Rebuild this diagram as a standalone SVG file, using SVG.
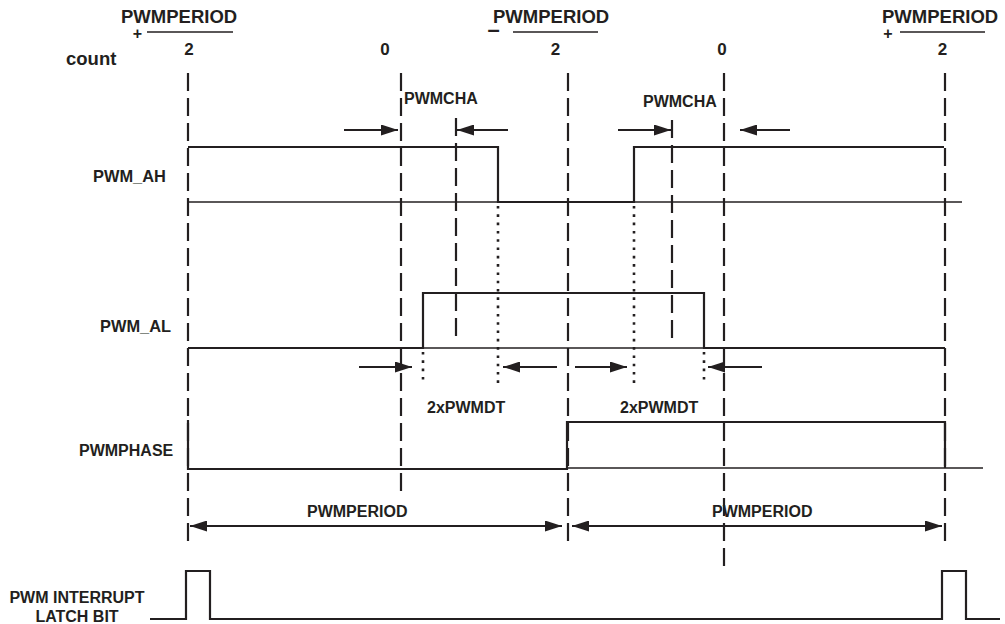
<svg xmlns="http://www.w3.org/2000/svg" width="1005" height="624" viewBox="0 0 1005 624">
<style>
text{font-family:"Liberation Sans",Arial,Helvetica,sans-serif;font-weight:bold;fill:#231f20}
.t18{font-size:18.5px}
.t17{font-size:17px}
.t16{font-size:16px}
.sig{fill:none;stroke:#231f20;stroke-width:2.2}
.thin{fill:none;stroke:#231f20;stroke-width:1.3}
.dash{fill:none;stroke:#231f20;stroke-width:2.2;stroke-dasharray:18 7}
.dot{fill:none;stroke:#231f20;stroke-width:2.6;stroke-dasharray:2.6 5.7}
.frac{stroke:#231f20;stroke-width:1.5}
.arr{fill:none;stroke:#231f20;stroke-width:2;marker-end:url(#ah)}
.darr{fill:none;stroke:#231f20;stroke-width:2;marker-start:url(#ah);marker-end:url(#ah)}
</style>
<defs>
<marker id="ah" viewBox="0 0 17 11" refX="17" refY="5.5" markerWidth="17" markerHeight="11" markerUnits="userSpaceOnUse" orient="auto-start-reverse">
<path d="M0 0 L17 5.5 L0 11 Z" fill="#231f20"/>
</marker>
</defs>
<rect width="1005" height="624" fill="#fff"/>

<g id="header">
<text class="t18" x="121" y="23">PWMPERIOD</text>
<text class="t16" x="137.5" y="38.5" text-anchor="middle">+</text>
<line class="frac" x1="147" y1="32" x2="233" y2="32"/>
<text class="t17" x="189" y="55" text-anchor="middle">2</text>
<text class="t17" x="385" y="55" text-anchor="middle">0</text>
<text class="t18" x="493" y="23">PWMPERIOD</text>
<text x="493.5" y="36.5" text-anchor="middle" style="font-size:22px">–</text>
<line class="frac" x1="513" y1="32" x2="598" y2="32"/>
<text class="t17" x="555.5" y="55" text-anchor="middle">2</text>
<text class="t17" x="722" y="55" text-anchor="middle">0</text>
<text class="t18" x="882" y="23">PWMPERIOD</text>
<text class="t16" x="888" y="38.5" text-anchor="middle">+</text>
<line class="frac" x1="900" y1="32" x2="985" y2="32"/>
<text class="t17" x="942.5" y="55" text-anchor="middle">2</text>
<text class="t18" x="66" y="65">count</text>
</g>

<g id="gridlines">
<path class="dash" d="M188 73 V546"/>
<path class="dash" d="M401 73 V498"/>
<path class="dash" d="M568 73 V546"/>
<path class="dash" d="M724 73 V568"/>
<path class="dash" d="M945 73 V546"/>
<path class="dash" d="M456 118 V340"/>
<path class="dash" d="M672 120 V342"/>
<path class="dot" d="M498 206 V384"/>
<path class="dot" d="M634 206 V384"/>
<path class="dot" d="M423 352 V384"/>
<path class="dot" d="M704 352 V384"/>
</g>

<g id="pwm_ah">
<text class="t16" x="93" y="182" style="font-size:16.4px">PWM_AH</text>
<path class="thin" d="M188 202 H962"/>
<path class="sig" d="M188 147 H498 V202 H634 V147 H944"/>
</g>

<g id="pwm_al">
<text class="t16" x="100" y="332" style="font-size:16.4px">PWM_AL</text>
<path class="thin" d="M188 348 H945"/>
<path class="sig" d="M188 348 H423 V293 H704 V348 H945"/>
</g>

<g id="pwmphase">
<text class="t16" x="79" y="456">PWMPHASE</text>
<path class="thin" d="M567 468 H983"/>
<path class="sig" d="M188 420 V469 H567 V422 H945 V468"/>
</g>

<g id="interrupt">
<text class="t16" x="77" y="603" text-anchor="middle">PWM INTERRUPT</text>
<text class="t16" x="77" y="622" text-anchor="middle">LATCH BIT</text>
<path class="sig" d="M150 619 H186 V571 H210 V619 H942 V571 H966 V619 H1000"/>
</g>

<g id="connectors">
<path class="arr" d="M344 130 H398"/>
<path class="arr" d="M508 130 H457"/>
<path class="arr" d="M618 130 H671"/>
<path class="arr" d="M790 130 H740"/>
<path class="arr" d="M359 367 H412"/>
<path class="arr" d="M557 367 H503"/>
<path class="arr" d="M575 367 H627"/>
<path class="arr" d="M762 367 H708"/>
<path class="darr" d="M190 526 H562"/>
<path class="darr" d="M572 526 H942"/>
</g>

<g id="labels">
<text class="t16" x="404" y="104">PWMCHA</text>
<text class="t16" x="643" y="107">PWMCHA</text>
<text class="t16" x="427" y="413">2xPWMDT</text>
<text class="t16" x="620" y="413">2xPWMDT</text>
<text class="t16" x="307" y="517">PWMPERIOD</text>
<text class="t16" x="712" y="517">PWMPERIOD</text>
</g>
</svg>
